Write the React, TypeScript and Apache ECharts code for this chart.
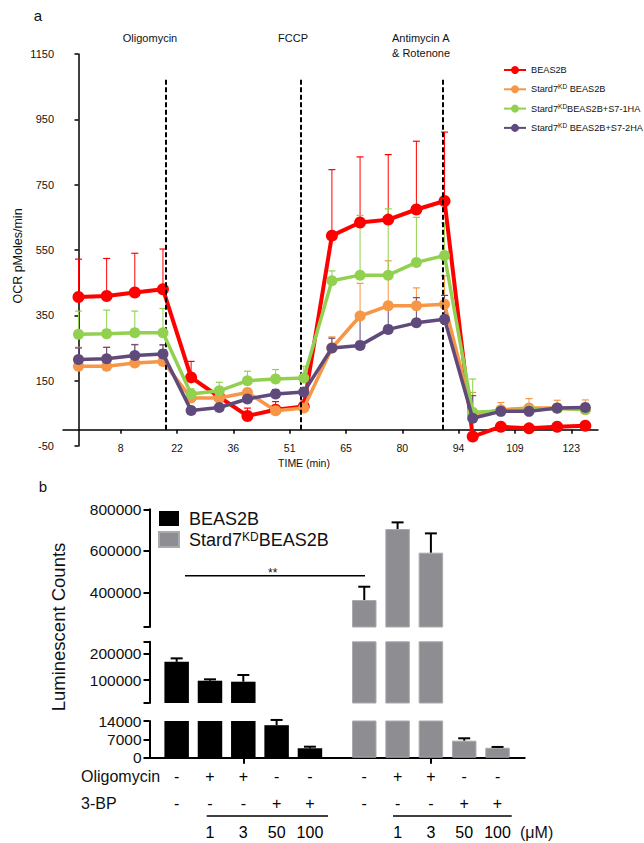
import React, { useEffect, useRef } from 'react';
import * as echarts from 'echarts';

const FONT = '"Liberation Sans", Arial, sans-serif';

// ---------- panel a : OCR ----------
const MEASUREMENT = [0, 1, 2, 3, 4, 5, 6, 7, 8, 9, 10, 11, 12, 13, 14, 15, 16, 17, 18];
const TIME_TICK_AT = [1.5, 3.5, 5.5, 7.5, 9.5, 11.5, 13.5, 15.5, 17.5];
const TIME_LABELS = ['8', '22', '36', '51', '65', '80', '94', '109', '123'];
const INJECTION_AT = [3.1, 7.9, 12.95];

const OCR_NAMES = ['BEAS2B', 'Stard7KD BEAS2B', 'Stard7KDBEAS2B+S7-1HA', 'Stard7KD BEAS2B+S7-2HA'];
const OCR_COLORS = ['#ff0000', '#f79646', '#92d050', '#604a7b'];
const OCR_BEAS2B = [406, 409, 420, 430, 160, 100, 42, 61, 71, 594, 634, 643, 674, 700, -21, 9, 4, 9, 12];
const OCR_BEAS2B_SD = [116, 115, 120, 123, 49, 25, 24, 25, 20, 202, 201, 199, 209, 211, 8, 8, 6, 6, 5];
const OCR_KD = [194, 194, 204, 209, 97, 97, 114, 58, 66, 250, 348, 379, 379, 384, 45, 61, 66, 66, 61];
const OCR_KD_SD = [58, 58, 57, 49, 15, 12, 12, 10, 12, 34, 100, 138, 55, 87, 69, 22, 29, 24, 30];
const OCR_KD_1HA = [292, 294, 297, 297, 109, 119, 150, 155, 158, 456, 473, 473, 512, 533, 53, 57, 60, 65, 62];
const OCR_KD_1HA_SD = [71, 72, 66, 74, 16, 26, 29, 29, 36, 30, 183, 203, 138, 100, 102, 12, 10, 10, 10];
const OCR_KD_2HA = [215, 217, 227, 232, 59, 68, 94, 109, 115, 250, 258, 307, 327, 338, 35, 56, 56, 66, 68];
const OCR_KD_2HA_SD = [35, 35, 33, 28, 10, 10, 12, 14, 12, 30, 85, 75, 77, 73, 69, 12, 12, 12, 12];

const OCR_VALUES = [OCR_BEAS2B, OCR_KD, OCR_KD_1HA, OCR_KD_2HA];
const OCR_SDS = [OCR_BEAS2B_SD, OCR_KD_SD, OCR_KD_1HA_SD, OCR_KD_2HA_SD];

// ---------- panel b : luminescence ----------
const GROUPS = ['BEAS2B', 'Stard7KD BEAS2B'];
const LEGEND_B = ['b:BEAS2B', 'b:Stard7KDBEAS2B'];
const OLIGOMYCIN = ['-', '+', '+', '-', '-'];
const BP3 = ['-', '-', '-', '+', '+'];
const CONC = ['', '1', '3', '50', '100'];
const LUM_BEAS2B = [168000, 97400, 93700, 12400, 3600];
const LUM_BEAS2B_SEM = [13000, 5200, 25000, 2000, 600];
const LUM_KD = [363000, 705000, 591000, 6500, 3800];
const LUM_KD_SEM = [64000, 32000, 93000, 900, 300];

const SEG_MIN = [0, 14000, 233000];
const SEG_MAX = [14000, 243000, 800000];
const SEG_LABELS = [[0, 7000, 14000], [100000, 200000], [400000, 600000, 800000]];
const SEG_TICKS = [[0, 7000, 14000], [14000, 100000, 200000, 243000], [233000, 400000, 600000, 800000]];

const GRAY = '#8e8d92';
const GRAY_EDGE = '#aaaaae';
const BAR_W = 24.5;
const BAR_GAP = 0.36;

const supFmt = (s: string) => s.replace('KD', '{sup|KD}');

function buildOption() {
  const ocrErr = (color: string) => (params: any, api: any) => {
    const x = api.value(0);
    const m = api.value(1);
    const t = api.value(2);
    const p0 = api.coord([x, m]);
    const p1 = api.coord([x, t]);
    return {
      type: 'group',
      children: [
        { type: 'line', shape: { x1: p0[0], y1: p0[1], x2: p0[0], y2: p1[1] }, style: { stroke: color, lineWidth: 1 } },
        { type: 'line', shape: { x1: p0[0] - 3.5, y1: p1[1], x2: p0[0] + 3.5, y2: p1[1] }, style: { stroke: color, lineWidth: 1.2 } },
      ],
    };
  };

  const series: any[] = [];

  OCR_NAMES.forEach((name, k) => {
    series.push({
      type: 'custom',
      xAxisIndex: 0,
      yAxisIndex: 0,
      silent: true,
      z: 1,
      encode: { x: 0, y: [1, 2] },
      data: MEASUREMENT.map((m, i) => [m, OCR_VALUES[k][i], OCR_VALUES[k][i] + OCR_SDS[k][i]]),
      renderItem: ocrErr(OCR_COLORS[k]),
    });
  });

  OCR_NAMES.forEach((name, k) => {
    const s: any = {
      type: 'line',
      name,
      xAxisIndex: 0,
      yAxisIndex: 0,
      z: 3 + k,
      data: MEASUREMENT.map((m, i) => [m, OCR_VALUES[k][i]]),
      symbol: 'circle',
      symbolSize: k === 0 ? 12 : 11,
      showAllSymbol: true,
      lineStyle: { color: OCR_COLORS[k], width: k === 0 ? 4 : 3.5 },
      itemStyle: { color: OCR_COLORS[k] },
    };
    if (k === 0) {
      s.markLine = {
        silent: true,
        symbol: ['none', 'none'],
        label: { show: false },
        lineStyle: { color: '#000', width: 2, type: [5, 2.5] },
        data: INJECTION_AT.map((x) => [{ coord: [x, 0] }, { coord: [x, 1078] }]),
      };
    }
    series.push(s);
  });

  // bars in 3 broken-axis segments
  for (let seg = 0; seg < 3; seg++) {
    for (let t = 0; t < 5; t++) {
      series.push({
        type: 'bar',
        xAxisIndex: 1 + seg,
        yAxisIndex: 1 + seg,
        barWidth: BAR_W,
        barGap: BAR_GAP * 100 + '%',
        clip: true,
        silent: true,
        data: [
          { value: LUM_BEAS2B[t], itemStyle: { color: '#000' } },
          { value: LUM_KD[t], itemStyle: { color: GRAY, borderColor: GRAY_EDGE, borderWidth: 1 } },
        ],
        label: {
          show: seg === 0,
          position: 'bottom',
          distance: 6,
          color: '#000',
          fontFamily: FONT,
          fontSize: 16,
          formatter: () => `{a|${OLIGOMYCIN[t]}}\n{b|${BP3[t]}}\n{c|${CONC[t] || ' '}}`,
          rich: {
            a: { fontSize: 16, lineHeight: 26, fontFamily: FONT, color: '#000' },
            b: { fontSize: 16, lineHeight: 27.2, fontFamily: FONT, color: '#000' },
            c: { fontSize: 16, lineHeight: 31.6, fontFamily: FONT, color: '#000' },
          },
        },
      });
    }
    const errData: any[] = [];
    [LUM_BEAS2B, LUM_KD].forEach((vals, g) => {
      const sems = g === 0 ? LUM_BEAS2B_SEM : LUM_KD_SEM;
      vals.forEach((v, t) => {
        if (v >= SEG_MIN[seg] && v < SEG_MAX[seg]) errData.push([g, t, v, v + sems[t]]);
      });
    });
    series.push({
      type: 'custom',
      xAxisIndex: 1 + seg,
      yAxisIndex: 1 + seg,
      silent: true,
      z: 5,
      encode: { x: 0, y: [2, 3] },
      data: errData,
      renderItem: (params: any, api: any) => {
        const g = api.value(0);
        const t = api.value(1);
        const p0 = api.coord([g, api.value(2)]);
        const p1 = api.coord([g, api.value(3)]);
        const x = p0[0] + (t - 2) * (BAR_W * (1 + BAR_GAP));
        return {
          type: 'group',
          children: [
            { type: 'line', shape: { x1: x, y1: p0[1], x2: x, y2: p1[1] }, style: { stroke: '#000', lineWidth: 2 } },
            { type: 'line', shape: { x1: x - 6, y1: p1[1], x2: x + 6, y2: p1[1] }, style: { stroke: '#000', lineWidth: 2 } },
          ],
        };
      },
    });
  }

  // legend-only series for panel b
  series.push({ type: 'line', name: LEGEND_B[0], xAxisIndex: 1, yAxisIndex: 1, data: [], itemStyle: { color: '#000' }, lineStyle: { color: '#000' } });
  series.push({ type: 'line', name: LEGEND_B[1], xAxisIndex: 1, yAxisIndex: 1, data: [], itemStyle: { color: GRAY, borderColor: GRAY_EDGE, borderWidth: 1 }, lineStyle: { color: GRAY } });

  const gridsB = [
    { top: 721, height: 36.7 },
    { top: 641.8, height: 61.2 },
    { top: 509.3, height: 117.7 },
  ];

  const segX = [0, 1, 2].map((seg) => ({
    gridIndex: 1 + seg,
    type: 'category',
    data: GROUPS,
    show: seg === 0,
    axisLine: { show: seg === 0, onZero: true, lineStyle: { color: '#000', width: 2 } },
    axisTick: { show: seg === 0, alignWithLabel: true, length: 6, lineStyle: { color: '#000', width: 2 } },
    axisLabel: { show: false },
    splitLine: { show: false },
  }));

  const segY = [0, 1, 2].map((seg) => ({
    gridIndex: 1 + seg,
    type: 'value',
    min: SEG_MIN[seg],
    max: SEG_MAX[seg],
    axisLine: { show: true, lineStyle: { color: '#000', width: 2 } },
    axisTick: { show: true, length: 6, customValues: SEG_TICKS[seg], lineStyle: { color: '#000', width: 2 } },
    axisLabel: {
      customValues: SEG_LABELS[seg],
      formatter: (v: number) => String(v),
      fontSize: 15.5,
      fontFamily: FONT,
      color: '#111',
      margin: 8,
    },
    splitLine: { show: false },
  }));

  const txt = (text: string, x: number, y: number, fontSize: number, align = 'center', extra: any = {}) => ({
    type: 'text',
    x,
    y,
    silent: true,
    ...extra,
    style: { text, fontSize, fontFamily: FONT, fill: '#111', textAlign: align, textVerticalAlign: 'middle' },
  });

  return {
    animation: false,
    backgroundColor: '#fff',
    textStyle: { fontFamily: FONT },
    grid: [
      { left: 63, width: 535, top: 54, height: 392 },
      ...gridsB.map((g) => ({ left: 149.5, width: 375.2, top: g.top, height: g.height })),
    ],
    xAxis: [
      {
        gridIndex: 0,
        type: 'value',
        min: -0.55,
        max: 18.45,
        axisLine: { onZero: true, lineStyle: { color: '#000', width: 1.5 } },
        axisTick: { customValues: TIME_TICK_AT, length: 4, lineStyle: { color: '#000', width: 1.5 } },
        axisLabel: {
          customValues: TIME_TICK_AT,
          formatter: (v: number) => TIME_LABELS[TIME_TICK_AT.indexOf(v)] ?? '',
          fontSize: 10.5,
          color: '#111',
          margin: -4,
        },
        splitLine: { show: false },
      },
      ...segX,
    ],
    yAxis: [
      {
        gridIndex: 0,
        type: 'value',
        min: -50,
        max: 1150,
        interval: 200,
        axisLine: { show: true, lineStyle: { color: '#000', width: 1.5 } },
        axisTick: { show: true, length: 4, lineStyle: { color: '#000', width: 1.5 } },
        axisLabel: { fontSize: 11, color: '#111', margin: 9, formatter: (v: number) => String(v) },
        splitLine: { show: false },
      },
      ...segY,
    ],
    legend: [
      {
        data: OCR_NAMES,
        orient: 'vertical',
        left: 498,
        top: 59,
        itemWidth: 22,
        itemHeight: 10,
        itemGap: 7.3,
        selectedMode: false,
        formatter: (n: string) => supFmt(n),
        textStyle: {
          fontSize: 9.2,
          lineHeight: 12,
          fontFamily: FONT,
          color: '#111',
          rich: { sup: { fontSize: 6.5, lineHeight: 8, verticalAlign: 'top', fontFamily: FONT, color: '#111' } },
        },
      },
      {
        data: LEGEND_B.map((name) => ({ name, icon: 'rect' })),
        orient: 'vertical',
        left: 153,
        top: 504.5,
        itemWidth: 20,
        itemHeight: 15,
        itemGap: 3,
        selectedMode: false,
        formatter: (n: string) => ' ' + supFmt(n.replace('b:', '')),
        textStyle: {
          fontSize: 18,
          lineHeight: 18,
          fontFamily: FONT,
          color: '#111',
          rich: { sup: { fontSize: 12, lineHeight: 12, verticalAlign: 'top', fontFamily: FONT, color: '#111' } },
        },
      },
    ],
    graphic: [
      txt('a', 38, 15, 15),
      txt('Oligomycin', 150, 38, 11),
      txt('FCCP', 293, 38, 11),
      txt('Antimycin A', 392, 38, 11, 'left'),
      txt('& Rotenone', 392, 53, 11, 'left'),
      txt('OCR pMoles/min', 18, 256, 12.5, 'center', { rotation: Math.PI / 2 }),
      txt('TIME (min)', 304, 463, 10.5),
      txt('b', 43, 486, 15),
      txt('Luminescent Counts', 58, 627, 18.5, 'center', { rotation: Math.PI / 2 }),
      { type: 'line', silent: true, shape: { x1: 185, y1: 575.7, x2: 365, y2: 575.7 }, style: { stroke: '#000', lineWidth: 1.5 } },
      txt('**', 272.7, 573, 12),
      txt('Oligomycin', 81, 776.7, 16, 'left'),
      txt('3-BP', 81, 803.3, 16, 'left'),
      { type: 'line', silent: true, shape: { x1: 206.7, y1: 816, x2: 328, y2: 816 }, style: { stroke: '#000', lineWidth: 1.5 } },
      { type: 'line', silent: true, shape: { x1: 393, y1: 816, x2: 511.7, y2: 816 }, style: { stroke: '#000', lineWidth: 1.5 } },
      txt('(\u03bcM)', 520, 832.7, 16, 'left'),
    ],
    series,
  };
}

export default function App() {
  const ref = useRef<HTMLDivElement>(null);
  useEffect(() => {
    if (!ref.current) return;
    const chart = echarts.init(ref.current, undefined, { renderer: 'svg' });
    chart.setOption(buildOption() as any);
    return () => chart.dispose();
  }, []);
  return (
    <div
      ref={ref}
      style={{ position: 'fixed', left: 0, top: 0, width: 644, height: 843, background: '#fff' }}
    />
  );
}
